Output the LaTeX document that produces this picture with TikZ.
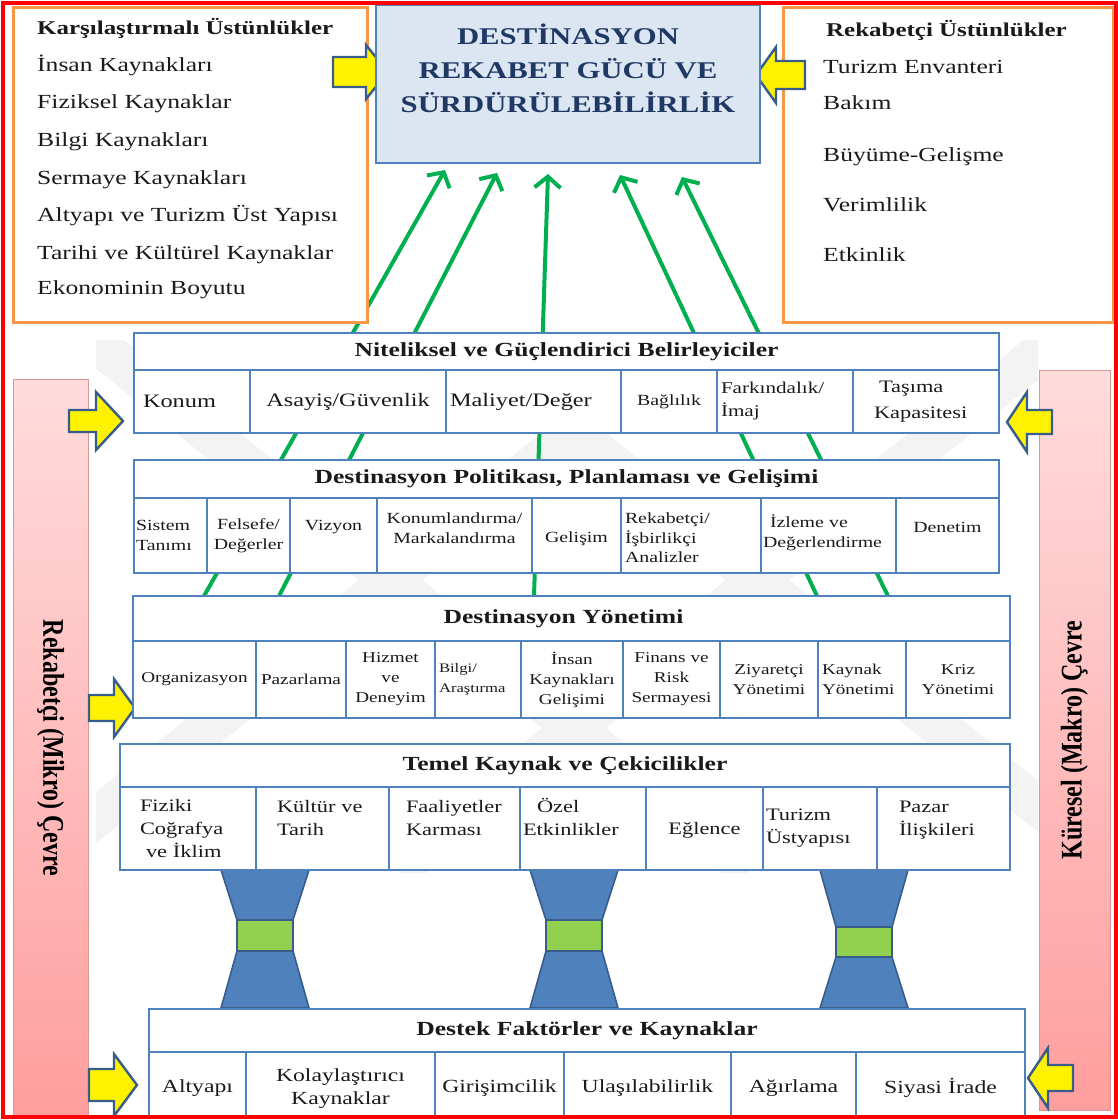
\documentclass[tikz,border=0pt]{standalone}
\usepackage{fontspec}
\setmainfont{Liberation Serif}[FakeStretch=1.28]
\newfontfamily\barfont{Liberation Serif}
\usetikzlibrary{arrows.meta}

\definecolor{boxblue}{HTML}{4F81BD}
\definecolor{darkblue}{HTML}{385D8A}
\definecolor{titleblue}{HTML}{1F3864}
\definecolor{paleblue}{HTML}{DCE6F2}
\definecolor{frameorange}{HTML}{F79646}
\definecolor{arrowgreen}{HTML}{00B050}
\definecolor{waistgreen}{HTML}{92D050}
\definecolor{pinktop}{HTML}{FFDCDC}
\definecolor{pinkbottom}{HTML}{FF9E9E}
\definecolor{pinkedge}{HTML}{D99694}
\definecolor{inktext}{HTML}{1A1A1A}
\definecolor{watermark}{HTML}{F3F3F3}

% raise a box without changing its extent, so node centring is kept
\newcommand\up[2]{\raisebox{#1}[\height][\depth]{#2}}
\newcommand\stackl[1]{\begin{tabular}{@{}l@{}}#1\end{tabular}}
\newcommand\stackc[1]{\begin{tabular}{@{}c@{}}#1\end{tabular}}

% one table cell: name, x1, x2, y1, y2, extra style, text
\newcommand\cellnode[7]{%
  \pgfmathsetmacro\cellW{#3-#2}%
  \pgfmathsetmacro\cellH{#5-#4}%
  \pgfmathsetmacro\cellT{#3-#2-8}%
  \node[cellbox,minimum width=\cellW pt,minimum height=\cellH pt,
        text width=\cellT pt,#6] (#1) at ({(#2+#3)/2},{(#4+#5)/2}) {#7};}

% hourglass connector: name, centre x, waist top, waist bottom
\newcommand\hourglass[4]{%
  \filldraw[fill=boxblue,draw=darkblue,line width=1.6pt,line join=round]
    ({#2-44},870) -- ({#2+44},870) -- ({#2+28},#3) -- ({#2-28},#3) -- cycle;
  \filldraw[fill=boxblue,draw=darkblue,line width=1.6pt,line join=round]
    ({#2-28},#4) -- ({#2+28},#4) -- ({#2+44},1008) -- ({#2-44},1008) -- cycle;
  \node[draw=darkblue,fill=waistgreen,line width=1.6pt,inner sep=0pt,
        minimum width=56pt,minimum height={#4-#3}] (#1) at (#2,{(#3+#4)/2}) {};}

\tikzset{
  cellbox/.style={draw=boxblue,line width=2.4pt,fill=white,inner sep=0pt,
                  outer sep=0pt,align=center,text=inktext},
  rowtitle/.style={font=\bfseries\fontsize{20}{24}\selectfont},
  r1/.style={font=\fontsize{19}{23}\selectfont},
  r1s/.style={font=\fontsize{15.5}{20}\selectfont},
  r1m/.style={font=\fontsize{16.5}{23}\selectfont},
  r1t/.style={font=\fontsize{17.5}{26}\selectfont},
  r2/.style={font=\fontsize{15.5}{19.5}\selectfont},
  r3/.style={font=\fontsize{15}{20}\selectfont},
  r3s/.style={font=\fontsize{13}{20}\selectfont},
  r4/.style={font=\fontsize{17.5}{23}\selectfont},
  r5/.style={font=\fontsize{18.5}{23}\selectfont},
  sidebox/.style={draw=frameorange,line width=3pt,fill=white,inner sep=0pt},
  listtext/.style={anchor=base west,inner sep=0pt,text=inktext,
                   font=\fontsize{20}{23}\selectfont},
  listhead/.style={listtext,font=\bfseries\fontsize{19.5}{23}\selectfont},
  sidebar/.style={draw=pinkedge,line width=1pt,top color=pinktop,
                  bottom color=pinkbottom,inner sep=0pt},
  growth/.style={draw=arrowgreen,line width=4pt,
                 -{Straight Barb[length=11pt,width=26pt]}},
  pics/blockarrow/.style n args={4}{code={
    \path[draw=darkblue,fill=yellow,line width=2.4pt,line join=miter]
      (0,0) -- (-#2,-#3) -- (-#2,-#4) -- (-#1,-#4) -- (-#1,#4)
      -- (-#2,#4) -- (-#2,#3) -- cycle;}}
}

\begin{document}
\begin{tikzpicture}[x=1pt,y=-1pt]
\useasboundingbox (0,0) rectangle (1118,1120);

% faint background watermark bands
\begin{scope}
  \clip (96,340) rectangle (1038,872);
  \draw[watermark,line width=40pt] (80,330) -- (750,870);
  \draw[watermark,line width=40pt] (701,330) -- (31,870);
  \draw[watermark,line width=40pt] (447,330) -- (1117,870);
  \draw[watermark,line width=40pt] (1068,330) -- (398,870);
\end{scope}

% environment bars
\node[sidebar,minimum width=75pt,minimum height=738pt] (mikro) at (50.5,748)
  {\rotatebox{-90}{\scalebox{1}[1.25]{\barfont\bfseries\fontsize{24}{28}\selectfont Rekabetçi (Mikro) Çevre}}};
\node[sidebar,minimum width=71pt,minimum height=740pt] (makro) at (1074.5,740)
  {\rotatebox{90}{\scalebox{1}[1.25]{\barfont\bfseries\fontsize{24}{28}\selectfont Küresel (Makro) Çevre}}};

% green links from destination management up to the goal box
\coordinate (g1a) at (204,596); \coordinate (g1b) at (445,170);
\coordinate (g2a) at (279,596); \coordinate (g2b) at (497,173);
\coordinate (g3a) at (534,596); \coordinate (g3b) at (548,174);
\coordinate (g4a) at (817,596); \coordinate (g4b) at (620,175);
\coordinate (g5a) at (888,596); \coordinate (g5b) at (682,177);
\draw[growth] (g1a) -- (g1b);
\draw[growth] (g2a) -- (g2b);
\draw[growth] (g3a) -- (g3b);
\draw[growth] (g4a) -- (g4b);
\draw[growth] (g5a) -- (g5b);

% comparative advantages
\node[sidebox,minimum width=354pt,minimum height=315pt] (karsi) at (190,164.5) {};
\node[listhead] (k0) at (37,34) {Karşılaştırmalı Üstünlükler};
\node[listtext] (k1) at (37,71) {İnsan Kaynakları};
\node[listtext] (k2) at (37,108) {Fiziksel Kaynaklar};
\node[listtext] (k3) at (37,146) {Bilgi Kaynakları};
\node[listtext] (k4) at (37,184) {Sermaye Kaynakları};
\node[listtext] (k5) at (37,221) {Altyapı ve Turizm Üst Yapısı};
\node[listtext] (k6) at (37,259) {Tarihi ve Kültürel Kaynaklar};
\node[listtext] (k7) at (37,294) {Ekonominin Boyutu};

% competitive advantages
\node[sidebox,minimum width=330pt,minimum height=315pt] (rekab) at (948,164.5) {};
\node[listhead] (q0) at (826,36) {Rekabetçi Üstünlükler};
\node[listtext] (q1) at (823,73) {Turizm Envanteri};
\node[listtext] (q2) at (823,109) {Bakım};
\node[listtext] (q3) at (823,161) {Büyüme-Gelişme};
\node[listtext] (q4) at (823,211) {Verimlilik};
\node[listtext] (q5) at (823,261) {Etkinlik};

% yellow block arrows
\pic (atl) at (388,72) {blockarrow={55}{22}{27}{15}};
\pic[xscale=-1] (atr) at (756,75) {blockarrow={49}{20}{28}{14}};
\pic (ar1l) at (123,421) {blockarrow={54}{27}{29}{11}};
\pic[xscale=-1] (ar1r) at (1007,422) {blockarrow={45}{20}{30}{12}};
\pic (ar3l) at (135,708) {blockarrow={46}{21}{29}{13}};
\pic (ar5l) at (137,1085) {blockarrow={48}{23}{31}{16}};
\pic[xscale=-1] (ar5r) at (1028,1078) {blockarrow={45}{20}{30}{13}};

% goal box
\node[draw=boxblue,fill=paleblue,line width=2.6pt,minimum width=384pt,
      minimum height=158pt,inner sep=0pt,align=center,text=titleblue,
      font=\bfseries\fontsize{24}{34}\selectfont] (goal) at (568,84)
  {\up{12pt}{\stackc{DESTİNASYON\\REKABET GÜCÜ VE\\SÜRDÜRÜLEBİLİRLİK}}};

% hourglass connectors between core resources and supporting factors
\hourglass{hg1}{265}{920}{951}
\hourglass{hg2}{574}{920}{951}
\hourglass{hg3}{864}{927}{957}

% qualifying and amplifying determinants
\cellnode{nitelik}{134}{999}{333}{370}{rowtitle}{Niteliksel ve Güçlendirici Belirleyiciler}
\cellnode{konum}{134}{250}{370}{433}{r1,align=left}{\hspace*{5pt}Konum}
\cellnode{asayis}{250}{446}{370}{433}{r1}{Asayiş/Güvenlik}
\cellnode{maliyet}{446}{621}{370}{433}{r1,align=left}{Maliyet/Değer}
\cellnode{baglilik}{621}{717}{370}{433}{r1s}{Bağlılık}
\cellnode{farkindalik}{717}{853}{370}{433}{r1m,align=left}{Farkındalık/\\İmaj}
\cellnode{tasima}{853}{999}{370}{433}{r1t,align=left,text width=104pt}{\hspace*{5pt}Taşıma\\Kapasitesi}

% destination policy, planning and development
\cellnode{politika}{134}{999}{460}{498}{rowtitle}{Destinasyon Politikası, Planlaması ve Gelişimi}
\cellnode{sistem}{134}{207}{498}{573}{r2,align=left,text width=69pt}{Sistem\\Tanımı}
\cellnode{felsefe}{207}{290}{498}{573}{r2}{Felsefe/\\Değerler}
\cellnode{vizyon}{290}{377}{498}{573}{r2}{\up{8pt}{Vizyon}}
\cellnode{konumlandirma}{377}{532}{498}{573}{r2}{\up{6pt}{\stackc{Konumlandırma/\\Markalandırma}}}
\cellnode{gelisim}{532}{621}{498}{573}{r2}{\up{-3pt}{Gelişim}}
\cellnode{rekabetci}{621}{761}{498}{573}{r2,align=left}{\up{-4pt}{\stackl{Rekabetçi/\\İşbirlikçi\\Analizler}}}
\cellnode{izleme}{761}{896}{498}{573}{r2,align=left,text width=131pt}{\up{2pt}{\stackl{\hspace*{7pt}İzleme ve\\Değerlendirme}}}
\cellnode{denetim}{896}{999}{498}{573}{r2}{\up{8pt}{Denetim}}

% destination management
\cellnode{yonetim}{133}{1010}{596}{641}{rowtitle}{\hspace*{-16pt}Destinasyon Yönetimi}
\cellnode{organizasyon}{133}{256}{641}{718}{r3}{Organizasyon}
\cellnode{pazarlama}{256}{346}{641}{718}{r3}{Pazarlama}
\cellnode{hizmet}{346}{435}{641}{718}{r3}{Hizmet\\ve\\Deneyim}
\cellnode{bilgi}{435}{521}{641}{718}{r3s,align=left}{Bilgi/\\Araştırma}
\cellnode{insan}{521}{623}{641}{718}{r3}{İnsan\\Kaynakları\\Gelişimi}
\cellnode{finans}{623}{720}{641}{718}{r3}{Finans ve\\Risk\\Sermayesi}
\cellnode{ziyaretci}{720}{818}{641}{718}{r3}{Ziyaretçi\\Yönetimi}
\cellnode{kaynakyon}{818}{906}{641}{718}{r3,align=left}{Kaynak\\Yönetimi}
\cellnode{kriz}{906}{1010}{641}{718}{r3}{Kriz\\Yönetimi}

% core resources and attractors
\cellnode{temel}{120}{1010}{744}{787}{rowtitle}{Temel Kaynak ve Çekicilikler}
\cellnode{fiziki}{120}{256}{787}{870}{r4,align=left,text width=96pt}{Fiziki\\Coğrafya\\\hspace*{6pt}ve İklim}
\cellnode{kultur}{256}{389}{787}{870}{r4,align=left,text width=91pt}{\up{9pt}{\stackl{Kültür ve\\Tarih}}}
\cellnode{faaliyet}{389}{520}{787}{870}{r4,align=left,text width=97pt}{\up{9pt}{\stackl{Faaliyetler\\Karması}}}
\cellnode{ozel}{520}{646}{787}{870}{r4,align=left,text width=120pt}{\up{9pt}{\stackl{\hspace*{14pt}Özel\\Etkinlikler}}}
\cellnode{eglence}{646}{763}{787}{870}{r4}{\up{-2pt}{Eğlence}}
\cellnode{turizm}{763}{877}{787}{870}{r4,align=left,text width=108pt}{Turizm\\Üstyapısı}
\cellnode{pazar}{877}{1010}{787}{870}{r4,align=left,text width=89pt}{\up{9pt}{\stackl{Pazar\\İlişkileri}}}

% supporting factors and resources
\cellnode{destek}{149}{1025}{1009}{1052}{rowtitle}{Destek Faktörler ve Kaynaklar}
\cellnode{altyapi}{149}{246}{1052}{1116}{r5}{\up{-4pt}{Altyapı}}
\cellnode{kolay}{246}{435}{1052}{1116}{r5}{\up{-4pt}{\stackc{Kolaylaştırıcı\\Kaynaklar}}}
\cellnode{girisim}{435}{564}{1052}{1116}{r5}{\up{-4pt}{Girişimcilik}}
\cellnode{ulasil}{564}{731}{1052}{1116}{r5}{\up{-4pt}{Ulaşılabilirlik}}
\cellnode{agirlama}{731}{856}{1052}{1116}{r5}{\up{-4pt}{Ağırlama}}
\cellnode{siyasi}{856}{1025}{1052}{1116}{r5}{\up{-4pt}{Siyasi İrade}}

% outer frame
\draw[red,line width=3.5pt] (3,3) rectangle (1116,1117);
\end{tikzpicture}
\end{document}
